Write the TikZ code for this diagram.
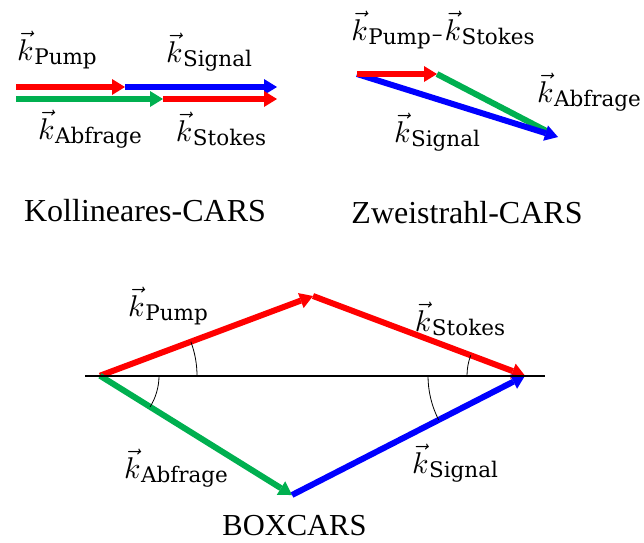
\documentclass[tikz,border=0pt]{standalone}
\usepackage{fontspec}
\setmainfont{Liberation Serif}
\newfontfamily\subf{DejaVu Serif}
\usetikzlibrary{arrows.meta,angles,calc}
\definecolor{cred}{RGB}{255,0,0}
\definecolor{cblue}{RGB}{0,0,255}
\definecolor{cgreen}{RGB}{0,176,80}
\newcommand{\kv}[1]{\scalebox{3.0}{$\vec{k}$}\kern0.5pt\raisebox{-4pt}{\fontsize{21.5}{21.5}\subf #1}}
\begin{document}
\begin{tikzpicture}[x=1pt,y=1pt,
  vecarrow/.style={line width=6pt,-{Triangle[length=13pt,width=16pt,line width=0pt]}},
  vecseg/.style={line width=6pt},
  lab/.style={inner sep=0pt},
  captext/.style={inner sep=0pt,anchor=base,font=\fontsize{32}{32}\selectfont},
  anglearc/.style={draw,line width=0.8pt}]
\useasboundingbox (0,0) rectangle (644,-542);
% ---------- Kollineares-CARS ----------
\coordinate (a0) at (16,-87);
\coordinate (a1) at (125,-87);
\coordinate (a2) at (277,-87);
\coordinate (b0) at (16,-99);
\coordinate (b1) at (163,-99);
\coordinate (b2) at (277,-99);
\draw[vecarrow,cred] (a0) -- (a1);
\draw[vecarrow,cblue] (a1) -- (a2);
\draw[vecarrow,cgreen] (b0) -- (b1);
\draw[vecarrow,cred] (b1) -- (b2);
\node[lab] (kp1) at (57,-50) {\kv{Pump}};
\node[lab] (ks1) at (209,-52) {\kv{Signal}};
\node[lab] (ka1) at (90,-129) {\kv{Abfrage}};
\node[lab] (kst1) at (221,-129) {\kv{Stokes}};
\node[captext] (c1) at (145,-221) {Kollineares-CARS};
% ---------- Zweistrahl-CARS ----------
\coordinate (S) at (357,-74);
\coordinate (P) at (437,-74);
\coordinate (Q) at (558,-137);
\draw[vecseg,cgreen] (P) -- ($(P)!0.92!(Q)$);
\draw[vecarrow,cblue] (S) -- (Q);
\draw[vecarrow,cred] (S) -- (P);
\node[lab] (kps) at (443,-30) {\kv{Pump}{\fontsize{21.5}{21.5}\subf\raisebox{-1pt}{\kern1pt–\kern2pt}}\kv{Stokes}};
\node[lab] (ka2) at (589,-92) {\kv{Abfrage}};
\node[lab] (ks2) at (437,-132) {\kv{Signal}};
\node[captext] (c2) at (467,-223) {Zweistrahl-CARS};
% ---------- BOXCARS ----------
\coordinate (H1) at (85,-375.7);
\coordinate (H2) at (545,-375.7);
\coordinate (L) at (100,-375.7);
\coordinate (R) at (525,-375.7);
\coordinate (T) at (313,-296);
\coordinate (B) at (292,-495);
\draw[vecarrow,cred] (L) -- (T);
\draw[vecarrow,cred] (T) -- (R);
\draw[vecarrow,cgreen] (L) -- (B);
\draw[vecarrow,cblue] (B) -- (R);
\draw[line width=2pt] (H1) -- (H2);
\pic[anglearc,angle radius=97pt] {angle = H2--L--T};
\pic[anglearc,angle radius=59pt] {angle = B--L--H2};
\pic[anglearc,angle radius=58pt] {angle = T--R--H1};
\pic[anglearc,angle radius=97pt] {angle = H1--R--B};
\node[lab] (kp3) at (168,-306) {\kv{Pump}};
\node[lab] (kst3) at (460,-319) {\kv{Stokes}};
\node[lab] (ka3) at (176,-468) {\kv{Abfrage}};
\node[lab] (ks3) at (455,-463) {\kv{Signal}};
\node[captext,font=\fontsize{30.5}{30.5}\selectfont] (c3) at (294.5,-535) {BOXCARS};
\end{tikzpicture}
\end{document}
